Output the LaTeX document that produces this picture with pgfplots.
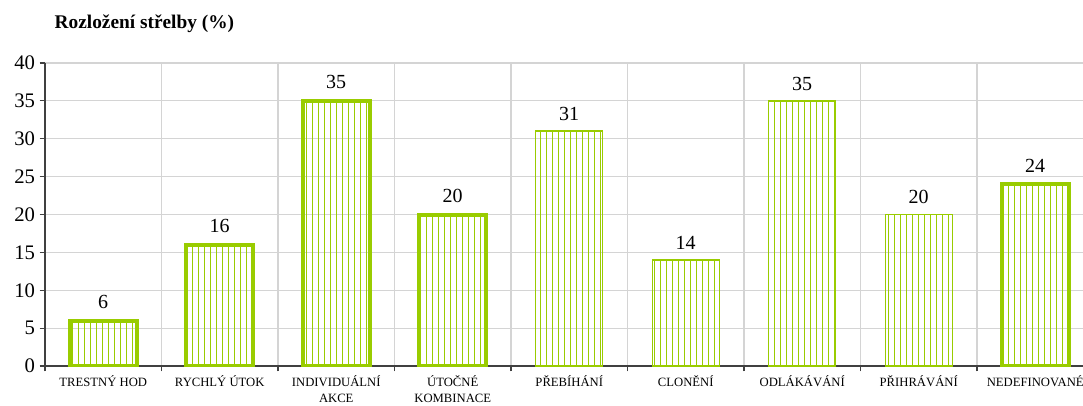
\documentclass[border=0pt]{standalone}
\usepackage{fontspec}
\setmainfont{Liberation Serif}
\usepackage{pgfplots}
\pgfplotsset{compat=1.18}
\usetikzlibrary{patterns.meta}

\definecolor{barG}{HTML}{99CC00}
\definecolor{gridG}{HTML}{D4D4D4}

% values (%) per category, positions 0..8
\pgfplotstableread{
x y
0 6
1 16
2 35
3 20
8 24
}\thickbars
\pgfplotstableread{
x y
4 31
5 14
6 35
7 20
}\thinbars

\begin{document}
\begin{tikzpicture}
\begin{axis}[
    at={(0,0)}, anchor=south west,
    scale only axis,
    width=778.5pt, height=227.25pt,
    xmin=-0.5, xmax=8.41,
    ymin=0, ymax=40,
    ytick={0,5,...,40},
    xtick={0,...,8},
    xticklabels={TRESTNÝ HOD, RYCHLÝ ÚTOK, INDIVIDUÁLNÍ\\AKCE, ÚTOČNÉ\\KOMBINACE,
        PŘEBÍHÁNÍ, CLONĚNÍ, ODLÁKÁVÁNÍ, PŘIHRÁVÁNÍ, NEDEFINOVANÉ},
    minor xtick={-0.5,0.5,...,7.5},
    xminorgrids, ymajorgrids,
    minor grid style={gridG, line width=0.8pt},
    major grid style={gridG, line width=0.8pt},
    axis lines*=left,
    axis line style={black!75, line width=0.8pt},
    tick align=outside,
    major x tick style={draw=none},
    minor tick length=4pt,
    major tick length=4pt,
    tick style={black!75, line width=0.8pt},
    ticklabel style={font=\fontsize{15.5}{15.5}\selectfont},
    xticklabel style={align=center, font=\fontsize{9.5}{11.5}\selectfont, yshift=0pt},
    /pgf/number format/assume math mode=true,
    ybar, bar width=50.25pt, bar shift=0pt,
    nodes near coords,
    every node near coord/.append style={font=\fontsize{15}{15}\selectfont, yshift=4pt},
    title={\textbf{Rozložení střelby (\%)}},
    title style={at={(0,1)}, anchor=west, xshift=3.75pt, yshift=23.25pt,
        font=\fontsize{14.5}{16}\selectfont},
]
\addplot[draw=barG, line width=3pt, pattern={Lines[angle=90, distance=4.5pt, line width=0.6pt]}, pattern color=barG]
    table {\thickbars};
\addplot[draw=barG, line width=1.1pt, pattern={Lines[angle=90, distance=4.5pt, line width=0.6pt]}, pattern color=barG]
    table {\thinbars};
\end{axis}
\pgfresetboundingbox
\path[use as bounding box] (-33.75pt,-29.25pt) rectangle (778.5pt,274.5pt);
\end{tikzpicture}
\end{document}
